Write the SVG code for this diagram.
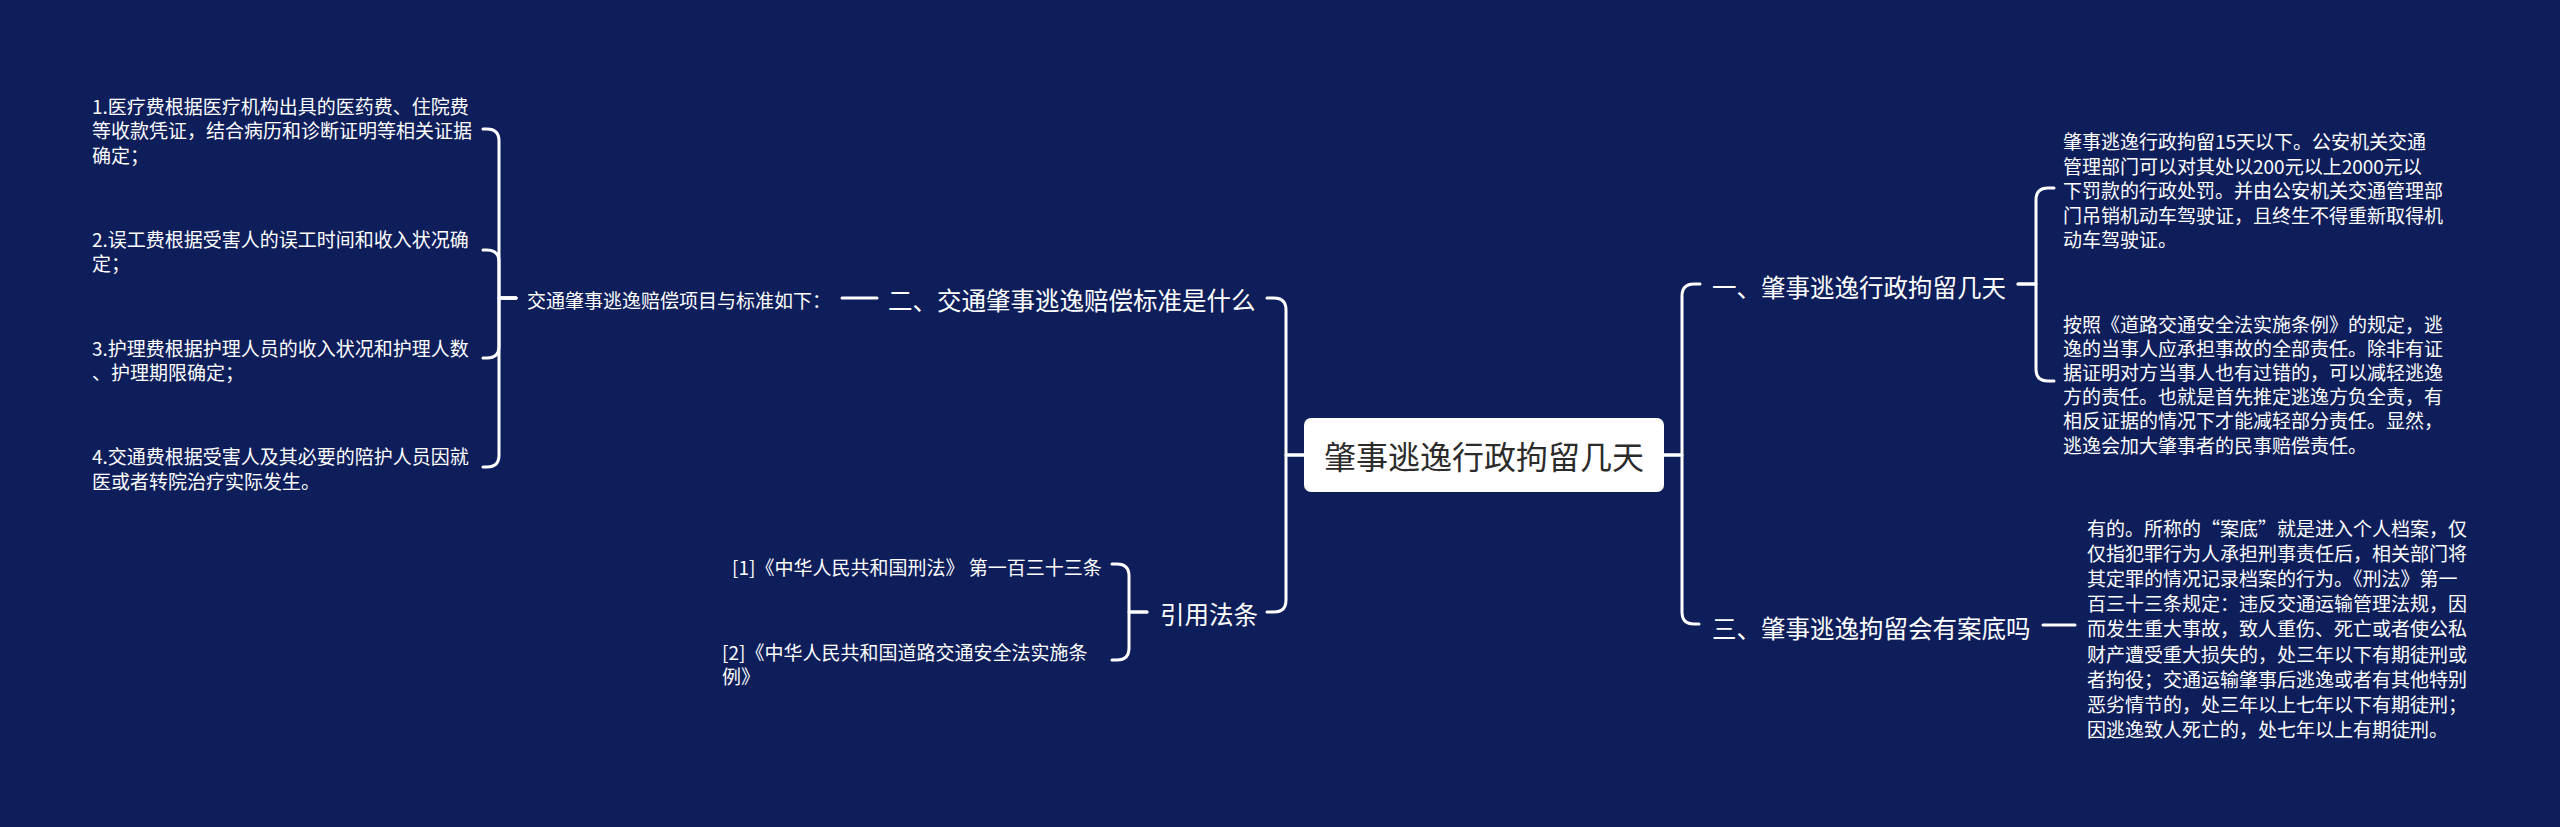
<svg xmlns="http://www.w3.org/2000/svg" width="2560" height="827" viewBox="0 0 2560 827">
<style>
.t{font-family:"Noto Sans CJK SC","Noto Sans",sans-serif;fill:#ffffff;dominant-baseline:central}
.leaf{font-size:19px}
.br{font-size:24.5px}
.root{font-size:32px;fill:#2b2b2b;text-anchor:middle}
.c{fill:none;stroke:#ffffff;stroke-width:3;stroke-linecap:round;stroke-linejoin:round}
</style>
<rect x="0" y="0" width="2560" height="827" fill="#0e1e5b"/>
<g id="connectors">
<path class="c" d="M1304,455 H1286 V310 Q1286,298 1274,298 H1267"/>
<path class="c" d="M1304,455 H1286 V600 Q1286,612 1274,612 H1267"/>
<path class="c" d="M1664,455 H1682 V296 Q1682,284 1694,284 H1700"/>
<path class="c" d="M1664,455 H1682 V612 Q1682,624 1694,624 H1699"/>
<path class="c" d="M877,298 H842"/>
<path class="c" d="M516,298 H499 V141 Q499,129 487,129 H483"/>
<path class="c" d="M516,298 H499 V262 Q499,250 487,250 H483"/>
<path class="c" d="M516,298 H499 V346 Q499,358 487,358 H483"/>
<path class="c" d="M516,298 H499 V455 Q499,467 487,467 H483"/>
<path class="c" d="M1147,612 H1129 V576 Q1129,564 1117,564 H1112"/>
<path class="c" d="M1147,612 H1129 V648 Q1129,660 1117,660 H1112"/>
<path class="c" d="M2018,284 H2036 V200 Q2036,188 2048,188 H2054"/>
<path class="c" d="M2018,284 H2036 V369 Q2036,381 2048,381 H2054"/>
<path class="c" d="M2043,625 H2075"/>
</g>
<g id="root">
<rect x="1304" y="418" width="360" height="74" rx="7" fill="#ffffff"/>
<text class="t root" x="1484" y="455">肇事逃逸行政拘留几天</text>
</g>
<g id="b2">
<text class="t br" x="888" y="299">二、交通肇事逃逸赔偿标准是什么</text>
</g>
<g id="b2-intro">
<text class="t leaf" x="527" y="299">交通肇事逃逸赔偿项目与标准如下：</text>
</g>
<g id="b2-item1">
<text class="t leaf"><tspan x="92" y="104.5">1.医疗费根据医疗机构出具的医药费、住院费</tspan><tspan x="92" y="129">等收款凭证，结合病历和诊断证明等相关证据</tspan><tspan x="92" y="153.5">确定；</tspan></text>
</g>
<g id="b2-item2">
<text class="t leaf"><tspan x="92" y="237.5">2.误工费根据受害人的误工时间和收入状况确</tspan><tspan x="92" y="262">定；</tspan></text>
</g>
<g id="b2-item3">
<text class="t leaf"><tspan x="92" y="346.5">3.护理费根据护理人员的收入状况和护理人数</tspan><tspan x="92" y="371">、护理期限确定；</tspan></text>
</g>
<g id="b2-item4">
<text class="t leaf"><tspan x="92" y="455">4.交通费根据受害人及其必要的陪护人员因就</tspan><tspan x="92" y="479.5">医或者转院治疗实际发生。</tspan></text>
</g>
<g id="refs">
<text class="t br" x="1160" y="613">引用法条</text>
</g>
<g id="ref1">
<text class="t leaf" x="732" y="566">[1]《中华人民共和国刑法》 第一百三十三条</text>
</g>
<g id="ref2">
<text class="t leaf"><tspan x="722" y="651">[2]《中华人民共和国道路交通安全法实施条</tspan><tspan x="722" y="675">例》</tspan></text>
</g>
<g id="b1">
<text class="t br" x="1712" y="286">一、肇事逃逸行政拘留几天</text>
</g>
<g id="b1-t1">
<text class="t leaf"><tspan x="2063" y="140">肇事逃逸行政拘留15天以下。公安机关交通</tspan><tspan x="2063" y="164.5">管理部门可以对其处以200元以上2000元以</tspan><tspan x="2063" y="189">下罚款的行政处罚。并由公安机关交通管理部</tspan><tspan x="2063" y="213.5">门吊销机动车驾驶证，且终生不得重新取得机</tspan><tspan x="2063" y="238">动车驾驶证。</tspan></text>
</g>
<g id="b1-t2">
<text class="t leaf"><tspan x="2063" y="322.5">按照《道路交通安全法实施条例》的规定，逃</tspan><tspan x="2063" y="346.7">逸的当事人应承担事故的全部责任。除非有证</tspan><tspan x="2063" y="370.9">据证明对方当事人也有过错的，可以减轻逃逸</tspan><tspan x="2063" y="395.1">方的责任。也就是首先推定逃逸方负全责，有</tspan><tspan x="2063" y="419.3">相反证据的情况下才能减轻部分责任。显然，</tspan><tspan x="2063" y="443.5">逃逸会加大肇事者的民事赔偿责任。</tspan></text>
</g>
<g id="b3">
<text class="t br" x="1712" y="627">三、肇事逃逸拘留会有案底吗</text>
</g>
<g id="b3-t1">
<text class="t leaf"><tspan x="2087" y="527">有的。所称的“案底”就是进入个人档案，仅</tspan><tspan x="2087" y="552.1">仅指犯罪行为人承担刑事责任后，相关部门将</tspan><tspan x="2087" y="577.2">其定罪的情况记录档案的行为。《刑法》第一</tspan><tspan x="2087" y="602.3">百三十三条规定：违反交通运输管理法规，因</tspan><tspan x="2087" y="627.4">而发生重大事故，致人重伤、死亡或者使公私</tspan><tspan x="2087" y="652.5">财产遭受重大损失的，处三年以下有期徒刑或</tspan><tspan x="2087" y="677.6">者拘役；交通运输肇事后逃逸或者有其他特别</tspan><tspan x="2087" y="702.7">恶劣情节的，处三年以上七年以下有期徒刑；</tspan><tspan x="2087" y="727.8">因逃逸致人死亡的，处七年以上有期徒刑。</tspan></text>
</g>
</svg>
